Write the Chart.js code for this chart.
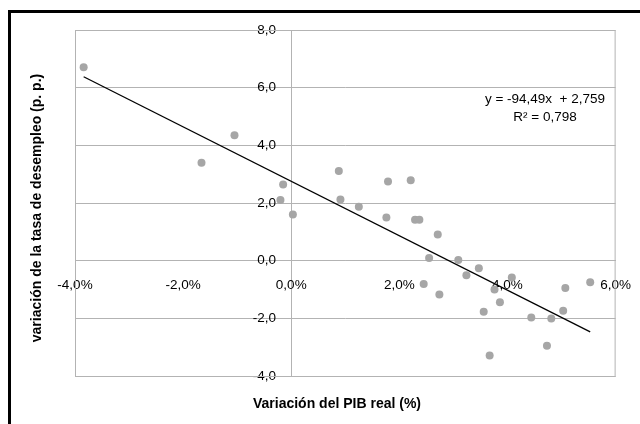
<!DOCTYPE html>
<html lang="es">
<head>
<meta charset="utf-8">
<title>PIB real y desempleo</title>
<script src="https://cdn.jsdelivr.net/npm/chart.js@4.4.0/dist/chart.umd.min.js"></script>
<style>
    html, body {
        margin: 0;
        padding: 0;
        background: #ffffff;
        overflow: hidden;
    }
    .frame {
        position: absolute;
        left: 8px;
        top: 10px;
        width: 700px;
        height: 500px;
        border: 3px solid #000000;
    }
    /* un poco más ancho que la ventana: el borde derecho del marco queda fuera */
    .chart-box {
        position: absolute;
        left: 0;
        top: 0;
        width: 648px;
        height: 424px;
    }
</style>
</head>
<body>
<div class="frame"></div>
<div class="chart-box">
    <canvas id="chart"></canvas>
</div>
<script>
    // variación del PIB real (fracción) y variación de la tasa de desempleo (p. p.)
    const pibValues = [
        -0.0384, -0.0166, -0.0105, -0.0015, -0.0020, 0.0003, 0.0088, 0.0091,
        0.0125, 0.0179, 0.0176, 0.0221, 0.0229, 0.0237, 0.0271, 0.0255,
        0.0309, 0.0347, 0.0324, 0.0408, 0.0245, 0.0376, 0.0507, 0.0553,
        0.0274, 0.0386, 0.0356, 0.0503, 0.0444, 0.0481, 0.0473, 0.0367
    ];
    const desempleoValues = [
        6.71, 3.40, 4.35, 2.64, 2.10, 1.60, 3.11, 2.12,
        1.87, 2.75, 1.50, 2.79, 1.42, 1.42, 0.91, 0.09,
        0.02, -0.26, -0.51, -0.58, -0.81, -1.00, -0.95, -0.75,
        -1.17, -1.44, -1.77, -1.74, -1.97, -2.01, -2.95, -3.29
    ];

    // recta de tendencia
    const trendX = [-0.0384, 0.0553];
    const trendY = [6.38, -2.47];

    const xTicks = [-0.04, -0.02, 0, 0.02, 0.04, 0.06];
    const yTicks = [-4, -2, 0, 2, 4, 6, 8];

    const equationLines = ['y = -94,49x  + 2,759', 'R² = 0,798'];
    const xTitle = 'Variación del PIB real (%)';
    const yTitle = 'variación de la tasa de desempleo (p. p.)';

    const gridColor = '#b3b3b3';
    const pointColor = '#a6a6a6';
    const fontFamily = '"Liberation Sans", Arial, sans-serif';

    const points = pibValues.map((x, i) => ({x: x, y: desempleoValues[i]}));
    const trend = trendX.map((x, i) => ({x: x, y: trendY[i]}));

    // borde del área de trazado y textos extra
    const extrasPlugin = {
        id: 'extras',
        beforeDatasetsDraw(chart) {
            const {ctx, chartArea} = chart;
            ctx.save();
            ctx.strokeStyle = gridColor;
            ctx.lineWidth = 1;
            ctx.strokeRect(chartArea.left + 0.5, chartArea.top + 0.5,
                chartArea.right - chartArea.left - 1, chartArea.bottom - chartArea.top);
            ctx.restore();
        },
        afterDraw(chart) {
            const {ctx} = chart;
            ctx.save();
            ctx.fillStyle = '#000000';
            ctx.textAlign = 'center';
            ctx.textBaseline = 'middle';

            ctx.font = '13.5px ' + fontFamily;
            ctx.fillText(equationLines[0], 545, 99);
            ctx.fillText(equationLines[1], 545, 117);

            ctx.font = 'bold 14px ' + fontFamily;
            ctx.fillText(xTitle, 337, 404);

            ctx.translate(37, 208);
            ctx.rotate(-Math.PI / 2);
            ctx.fillText(yTitle, 0, 0);
            ctx.restore();
        }
    };

    const formatComma = (value, digits) => value.toFixed(digits).replace('.', ',');

    new Chart(document.getElementById('chart'), {
        type: 'scatter',
        data: {
            datasets: [
                {
                    data: points,
                    backgroundColor: pointColor,
                    borderColor: pointColor,
                    pointRadius: 4,
                    pointHoverRadius: 4,
                    borderWidth: 0
                },
                {
                    type: 'line',
                    data: trend,
                    borderColor: '#000000',
                    borderWidth: 1.3,
                    pointRadius: 0,
                    fill: false
                }
            ]
        },
        options: {
            responsive: true,
            maintainAspectRatio: false,
            animation: false,
            layout: {
                autoPadding: false,
                padding: {left: 75, right: 15, top: 30, bottom: 48}
            },
            plugins: {
                legend: {display: false},
                tooltip: {enabled: false}
            },
            scales: {
                x: {
                    type: 'linear',
                    position: {y: 0},
                    min: xTicks[0],
                    max: xTicks[xTicks.length - 1],
                    afterBuildTicks: (scale) => {
                        scale.ticks = xTicks.map(v => ({value: v}));
                    },
                    // solo la línea vertical del eje en 0,0%
                    grid: {
                        drawTicks: false,
                        color: (ctx) => ctx.tick && ctx.tick.value === 0 ? gridColor : 'rgba(0,0,0,0)'
                    },
                    border: {display: true, color: gridColor},
                    ticks: {
                        color: '#000000',
                        padding: 17,
                        maxRotation: 0,
                        font: {family: fontFamily, size: 13.5},
                        callback: (value) => formatComma(value * 100, 1) + '%'
                    }
                },
                y: {
                    type: 'linear',
                    // etiquetas un poco a la izquierda del eje vertical
                    position: {x: -0.0028},
                    min: yTicks[0],
                    max: yTicks[yTicks.length - 1],
                    afterBuildTicks: (scale) => {
                        scale.ticks = yTicks.map(v => ({value: v}));
                    },
                    grid: {color: gridColor, drawTicks: false},
                    border: {display: false},
                    ticks: {
                        color: '#000000',
                        font: {family: fontFamily, size: 13.5},
                        callback: (value) => formatComma(value, 1)
                    }
                }
            }
        },
        plugins: [extrasPlugin]
    });
</script>
</body>
</html>
